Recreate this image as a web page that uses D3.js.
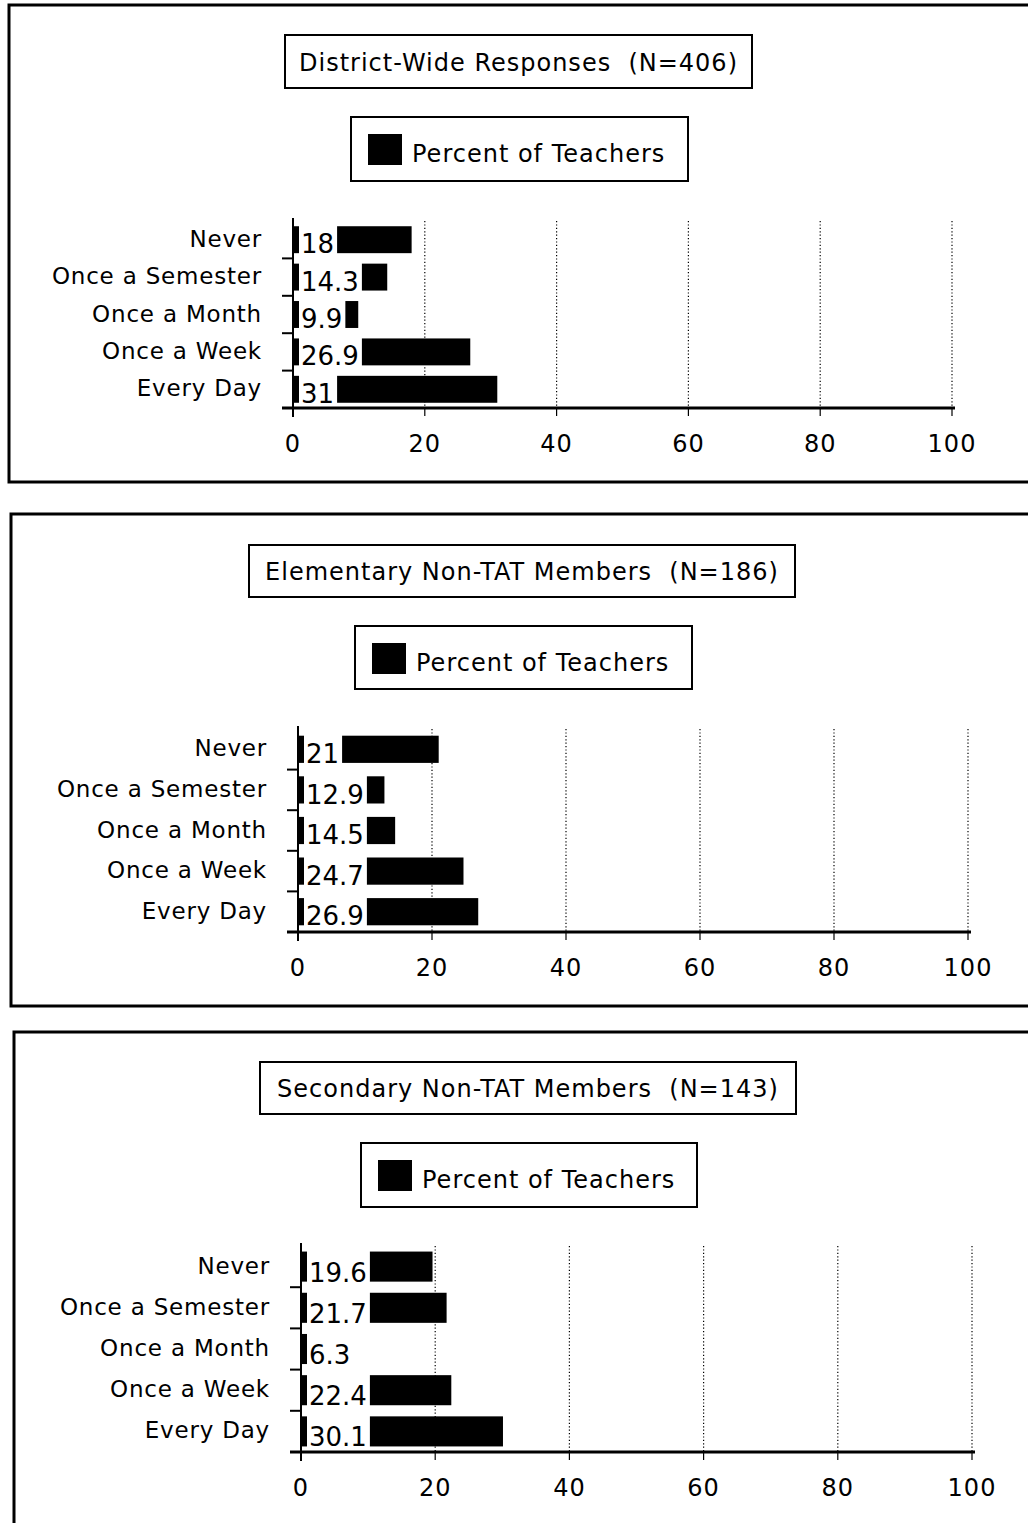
<!DOCTYPE html>
<html><head><meta charset="utf-8">
<script src="https://cdn.jsdelivr.net/npm/d3@7"></script>
<style>
body{margin:0;background:#fff}
svg{display:block}
text{font-family:"DejaVu Sans",Verdana,sans-serif;fill:#000}
</style>
</head><body>
<svg id="c" width="1028" height="1523"></svg>
<script>
// ---------- data ----------
const categories = ["Never", "Once a Semester", "Once a Month", "Once a Week", "Every Day"];
const districtValues   = [18, 14.3, 9.9, 26.9, 31];
const elementaryValues = [21, 12.9, 14.5, 24.7, 26.9];
const secondaryValues  = [19.6, 21.7, 6.3, 22.4, 30.1];
const xTickValues = [0, 20, 40, 60, 80, 100];
const panelTitles = [
  "District-Wide Responses\u00a0\u00a0(N=406)",
  "Elementary Non-TAT Members\u00a0\u00a0(N=186)",
  "Secondary Non-TAT Members\u00a0\u00a0(N=143)"
];
const legendLabel = "Percent of Teachers";
const panelValues = [districtValues, elementaryValues, secondaryValues];

// ---------- layout ----------
const layouts = [
  {frame:[9,5,1040,477],   title:[285,35,467,53],   legend:[351,117,337,64],  plot:[293,952,221,408],   catRight:262, pad:0.28},
  {frame:[11,514,1040,492], title:[249,545,546,52],  legend:[355,626,337,63],  plot:[298,968,729,932],   catRight:267, pad:0.33},
  {frame:[14,1032,1040,600],title:[260,1062,536,52], legend:[361,1143,336,64], plot:[301,972,1246,1452], catRight:270, pad:0.27}
];

const svg = d3.select("#c");

layouts.forEach((L, idx) => {
  const values = panelValues[idx];
  const g = svg.append("g");

  // outer frame
  g.append("rect").attr("x", L.frame[0]).attr("y", L.frame[1])
    .attr("width", L.frame[2]).attr("height", L.frame[3])
    .attr("fill", "none").attr("stroke", "#000").attr("stroke-width", 3);

  // title box
  g.append("rect").attr("x", L.title[0]).attr("y", L.title[1])
    .attr("width", L.title[2]).attr("height", L.title[3])
    .attr("fill", "#fff").attr("stroke", "#000").attr("stroke-width", 2);
  g.append("text").attr("x", L.title[0] + L.title[2] / 2).attr("y", L.title[1] + L.title[3] / 2 + 9)
    .attr("text-anchor", "middle").style("font-size", "24px").style("letter-spacing", "1px")
    .text(panelTitles[idx]);

  // legend box
  g.append("rect").attr("x", L.legend[0]).attr("y", L.legend[1])
    .attr("width", L.legend[2]).attr("height", L.legend[3])
    .attr("fill", "#fff").attr("stroke", "#000").attr("stroke-width", 2);
  g.append("rect").attr("x", L.legend[0] + 17).attr("y", L.legend[1] + 17)
    .attr("width", 34).attr("height", 31).attr("fill", "#000");
  g.append("text").attr("x", L.legend[0] + 61).attr("y", L.legend[1] + L.legend[3] / 2 + 13)
    .style("font-size", "24px").style("letter-spacing", "1px")
    .text(legendLabel);

  // scales
  const [x0, x1, yTop, yBottom] = L.plot;
  const x = d3.scaleLinear().domain([0, 100]).range([x0, x1]);
  const y = d3.scaleBand().domain(categories).range([yTop, yBottom])
    .paddingInner(L.pad).paddingOuter(L.pad / 2);
  const step = y.step();

  // dotted gridlines
  g.selectAll(".grid").data(xTickValues.filter(v => v > 0)).join("line")
    .attr("x1", d => x(d)).attr("x2", d => x(d))
    .attr("y1", yTop).attr("y2", yBottom)
    .attr("stroke", "#000").attr("stroke-width", 1.2).attr("stroke-dasharray", "1.2,2.2");

  // bars
  g.selectAll(".bar").data(values).join("rect")
    .attr("x", x(0)).attr("y", (d, i) => y(categories[i]))
    .attr("width", d => x(d) - x(0)).attr("height", y.bandwidth())
    .attr("fill", "#000");

  // value labels with white background
  values.forEach((v, i) => {
    const by = y(categories[i]);
    const t = g.append("text").attr("x", x(0) + 8).attr("y", by + y.bandwidth())
      .style("font-size", "26px").text(String(v));
    const w = t.node().getComputedTextLength();
    g.insert("rect", () => t.node())
      .attr("x", x(0) + 6).attr("y", by - 1)
      .attr("width", w + 5).attr("height", y.bandwidth() + 2)
      .attr("fill", "#fff");
  });

  // category labels
  g.selectAll(".cat").data(categories).join("text")
    .attr("x", L.catRight).attr("y", d => y(d) + y.bandwidth() / 2 + 7)
    .attr("text-anchor", "end").style("font-size", "23px").style("letter-spacing", "0.8px")
    .text(d => d);

  // category ticks
  g.selectAll(".ctick").data(categories.slice(1).concat(["end"])).join("line")
    .attr("x1", x0 - 11).attr("x2", x0)
    .attr("y1", (d, i) => yTop + (i + 1) * step).attr("y2", (d, i) => yTop + (i + 1) * step)
    .attr("stroke", "#000").attr("stroke-width", 2);

  // y axis line
  g.append("line").attr("x1", x0).attr("x2", x0).attr("y1", yTop - 3).attr("y2", yBottom + 9)
    .attr("stroke", "#000").attr("stroke-width", 2);

  // x axis
  g.append("line").attr("x1", x0 - 11).attr("x2", x1 + 3).attr("y1", yBottom).attr("y2", yBottom)
    .attr("stroke", "#000").attr("stroke-width", 3);
  g.selectAll(".xtick").data(xTickValues).join("line")
    .attr("x1", d => x(d)).attr("x2", d => x(d)).attr("y1", yBottom).attr("y2", yBottom + 8)
    .attr("stroke", "#000").attr("stroke-width", 1.2);
  g.selectAll(".xlab").data(xTickValues).join("text")
    .attr("x", d => x(d)).attr("y", yBottom + 44)
    .attr("text-anchor", "middle").style("font-size", "24px").style("letter-spacing", "1px")
    .text(d => d);
});
</script>
</body></html>
